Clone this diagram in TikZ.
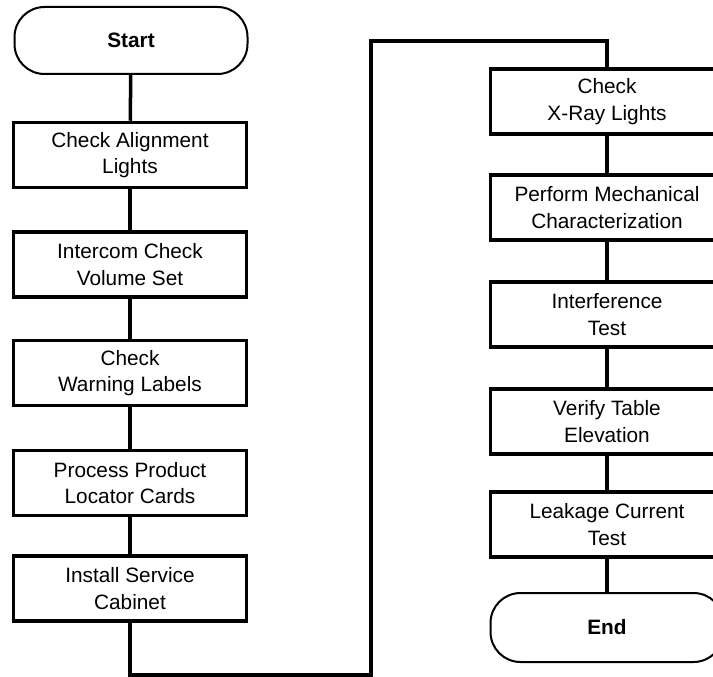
\documentclass[tikz,border=0pt]{standalone}
\usepackage{fontspec}
\setmainfont{Liberation Sans}
\begin{document}
\begin{tikzpicture}[x=1pt,y=-1pt,
  txt/.style={font=\fontsize{20.8}{26.7}\selectfont, align=center},
  procbox/.style={txt, draw, line width=3.5pt, rectangle, minimum width=233pt, minimum height=65pt, inner sep=0pt},
  termbox/.style={txt, draw, line width=2pt, rectangle, rounded corners=30pt, minimum width=233pt, minimum height=67pt, inner sep=0pt, font=\fontsize{20.8}{26.7}\selectfont\bfseries},
  conn/.style={line width=3.5pt}]
\useasboundingbox (0,0) rectangle (713,677);
\clip (0,0) rectangle (713,677);
\fill[white] (0,0) rectangle (713,677);
% left column
\node[termbox] (start) at (131,40.5) {Start};
\node[procbox] (l1) at (130,155) {Check Alignment\\Lights};
\node[procbox] (l2) at (130,264.5) {Intercom Check\\Volume Set};
\node[procbox] (l3) at (130,373) {Check\\Warning Labels};
\node[procbox] (l4) at (130,483) {Process Product\\Locator Cards};
\node[procbox] (l5) at (130,588.5) {Install Service\\Cabinet};
% right column
\node[procbox] (r1) at (607,101.5) {Check\\X-Ray Lights};
\node[procbox] (r2) at (607,207.5) {Perform Mechanical\\Characterization};
\node[procbox] (r3) at (607,314.5) {Interference\\Test};
\node[procbox] (r4) at (607,421.5) {Verify Table\\Elevation};
\node[procbox] (r5) at (607,524.5) {Leakage Current\\Test};
\node[termbox, minimum height=69pt] (end) at (607,627.5) {End};
% route corners
\coordinate (bl) at (130,675);
\coordinate (br) at (371,675);
\coordinate (tl) at (371,41);
\coordinate (tr) at (607,41);
% connectors
\draw[conn] (start) -- (l1);
\draw[conn] (l1) -- (l2);
\draw[conn] (l2) -- (l3);
\draw[conn] (l3) -- (l4);
\draw[conn] (l4) -- (l5);
\draw[conn] (l5.south) -- (bl) -- (br) -- (tl) -- (tr) -- (r1.north);
\draw[conn] (r1) -- (r2);
\draw[conn] (r2) -- (r3);
\draw[conn] (r3) -- (r4);
\draw[conn] (r4) -- (r5);
\draw[conn] (r5) -- (end);
\end{tikzpicture}
\end{document}
